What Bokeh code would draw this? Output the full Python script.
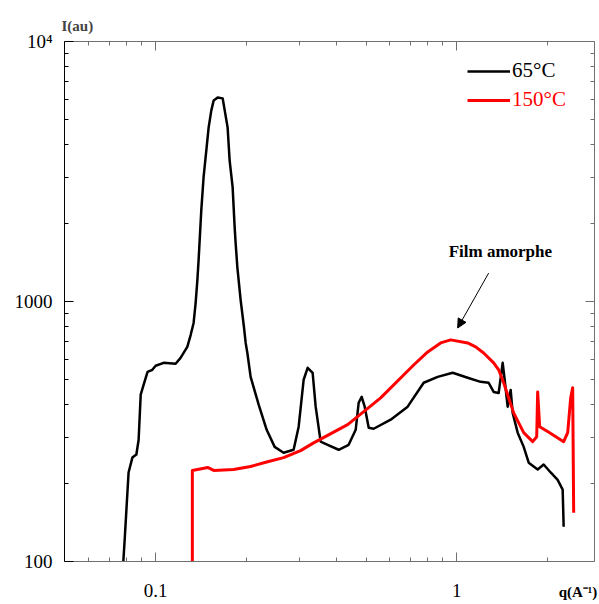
from bokeh.plotting import figure
from bokeh.models import (LogAxis, FixedTicker, Legend, LegendItem, Label, Arrow,
                          NormalHead, Range1d, CustomJSTickFormatter)
from bokeh.embed import file_html
from bokeh.resources import INLINE

# ---- data ----
q_65 = [0.0781, 0.0789, 0.0813, 0.0837, 0.0863, 0.0878, 0.0892, 0.0912, 0.0940, 0.0975,
        0.1000, 0.1063, 0.1165, 0.1210, 0.1274, 0.1307, 0.1337, 0.1358, 0.1376, 0.1389,
        0.1418, 0.1443, 0.1477, 0.1500, 0.1531, 0.1559, 0.1607, 0.1670, 0.1734, 0.1761,
        0.1802, 0.1830, 0.1844, 0.1868, 0.1916, 0.1965, 0.1991, 0.2017, 0.2068, 0.2199,
        0.2338, 0.2485, 0.2661, 0.2873, 0.2986, 0.3102, 0.3199, 0.3323, 0.3401, 0.3533,
        0.3727, 0.4055, 0.4377, 0.4619, 0.4726, 0.4836, 0.4948, 0.5103, 0.5300, 0.6037,
        0.6874, 0.7771, 0.8648, 0.9699, 1.0877, 1.2014, 1.277, 1.327, 1.379, 1.4218,
        1.4437, 1.4771, 1.5114, 1.5347, 1.5947, 1.6698, 1.7349, 1.858, 1.9455, 2.0526,
        2.165, 2.2496, 2.2669]
i_65 = [100, 121, 220, 251, 258, 294, 438, 478, 536, 546,
        566, 581, 576, 607, 669, 743, 827, 987, 1209, 1443,
        2245, 3006, 3919, 4675, 5435, 5935, 6095, 6043, 4675, 3493,
        2751, 1932, 1677, 1357, 1013, 798, 693, 634, 513, 401,
        321, 276, 262, 269, 330, 500, 556, 532, 394, 289,
        281, 269, 281, 321, 408, 430, 394, 327, 324, 351,
        394, 487, 513, 532, 509, 491, 487, 449, 445, 581,
        500, 394, 457, 373, 313, 276, 240, 226, 236, 220,
        206, 189, 136]

q_150 = [0.1324, 0.1324, 0.1378, 0.1489, 0.1559, 0.1815, 0.2068, 0.2355, 0.2661, 0.3031,
         0.3348, 0.4344, 0.5592, 0.7198, 0.8012, 0.8846, 0.955, 1.0877, 1.1563, 1.2294,
         1.327, 1.379, 1.4327, 1.5462, 1.6698, 1.7886, 1.8446, 1.858, 1.8867, 2.0059,
         2.2669, 2.338, 2.392, 2.4288, 2.4475]
i_150 = [100, 224, 226, 230, 224, 226, 232, 242, 251, 267,
         286, 336, 426, 570, 640, 693, 712, 693, 669, 634,
         581, 546, 487, 373, 313, 289, 302, 449, 330, 316,
         289, 313, 426, 466, 154]

series_names = ["65°C", "150°C"]
x_ticks = [0.1, 1]
x_tick_labels = ["0.1", "1"]
x_minor_ticks = [0.06, 0.07, 0.08, 0.09, 0.2, 0.3, 0.4, 0.5, 0.6, 0.7, 0.8, 0.9, 2]
y_ticks = [100, 1000, 10000]
y_tick_labels = ["100", "1000", "10⁴"]
y_minor_ticks = [200, 300, 400, 500, 600, 700, 800, 900,
                 2000, 3000, 4000, 5000, 6000, 7000, 8000, 9000]

SERIF = "Liberation Serif"

p = figure(x_axis_type="log", y_axis_type="log",
           x_range=Range1d(0.0498, 2.87), y_range=Range1d(100, 10000),
           frame_width=530, frame_height=520,
           min_border_left=64, min_border_top=41, min_border_right=5, min_border_bottom=40,
           output_backend="svg", toolbar_location=None)
p.grid.visible = False
p.outline_line_color = None

p.title.text = "I(au)"
p.title.align = "left"
p.title.offset = -3
p.title.standoff = 15
p.title.text_font = SERIF
p.title.text_font_style = "bold"
p.title.text_font_size = "15px"

fmt_code = """
for (let i = 0; i < t.length; i++) {
  if (Math.abs(Math.log10(tick) - Math.log10(t[i])) < 1e-6) return l[i];
}
return "";
"""

def style(ax, color, major, minor):
    ax.ticker = FixedTicker(ticks=major, minor_ticks=minor)
    ax.axis_line_color = color
    ax.major_tick_line_color = color
    ax.minor_tick_line_color = color
    ax.major_tick_in = 9
    ax.major_tick_out = 0
    ax.minor_tick_in = 4
    ax.minor_tick_out = 0
    ax.major_label_text_font = SERIF
    ax.major_label_text_font_size = "19px"
    ax.major_label_text_color = "black"

xa = p.xaxis[0]
ya = p.yaxis[0]
style(xa, "#707070", x_ticks, x_minor_ticks)
style(ya, "black", y_ticks, y_minor_ticks)
xa.formatter = CustomJSTickFormatter(args=dict(t=x_ticks, l=x_tick_labels), code=fmt_code)
ya.formatter = CustomJSTickFormatter(args=dict(t=y_ticks, l=y_tick_labels), code=fmt_code)
xa.major_label_standoff = 22
ya.major_label_standoff = 12

top = LogAxis()
right = LogAxis()
style(top, "#707070", x_ticks, x_minor_ticks)
style(right, "#707070", y_ticks, y_minor_ticks)
for ax in (top, right):
    ax.formatter = CustomJSTickFormatter(code="return '';")
    ax.major_label_text_font_size = "0px"
    ax.major_label_standoff = 0
p.add_layout(top, "above")
p.add_layout(right, "right")

r65 = p.line(q_65, i_65, line_color="black", line_width=2.5, line_join="round")
r150 = p.line(q_150, i_150, line_color="#ff0000", line_width=3, line_join="round")

for name, rend, color, loc in [(series_names[0], r65, "black", (403, 478)),
                               (series_names[1], r150, "#ff0000", (403, 449))]:
    lg = Legend(items=[LegendItem(label=name, renderers=[rend])], location=loc,
                label_text_font=SERIF, label_text_font_size="21px", label_text_color=color,
                glyph_width=43, glyph_height=20, label_standoff=2, padding=0, margin=0,
                spacing=0, border_line_color=None, background_fill_alpha=0)
    p.add_layout(lg, "center")

p.add_layout(Label(x=0.9406, y=1560, text="Film amorphe", text_font=SERIF,
                   text_font_style="bold", text_font_size="17px", text_baseline="alphabetic",
                   text_color="black"))
p.add_layout(Arrow(end=NormalHead(size=9, fill_color="black", line_color="black"),
                   x_start=1.277, y_start=1286, x_end=1.0077, y_end=791,
                   line_color="black", line_width=1))

# x-axis name, bottom-right beside the tick labels
p.add_layout(Label(x=2.182, y=76, text="q(A⁻¹)", text_font=SERIF,
                   text_font_style="bold", text_font_size="15px", text_baseline="alphabetic",
                   text_color="black"), "below")

open("out.html", "w").write(file_html(p, INLINE))
